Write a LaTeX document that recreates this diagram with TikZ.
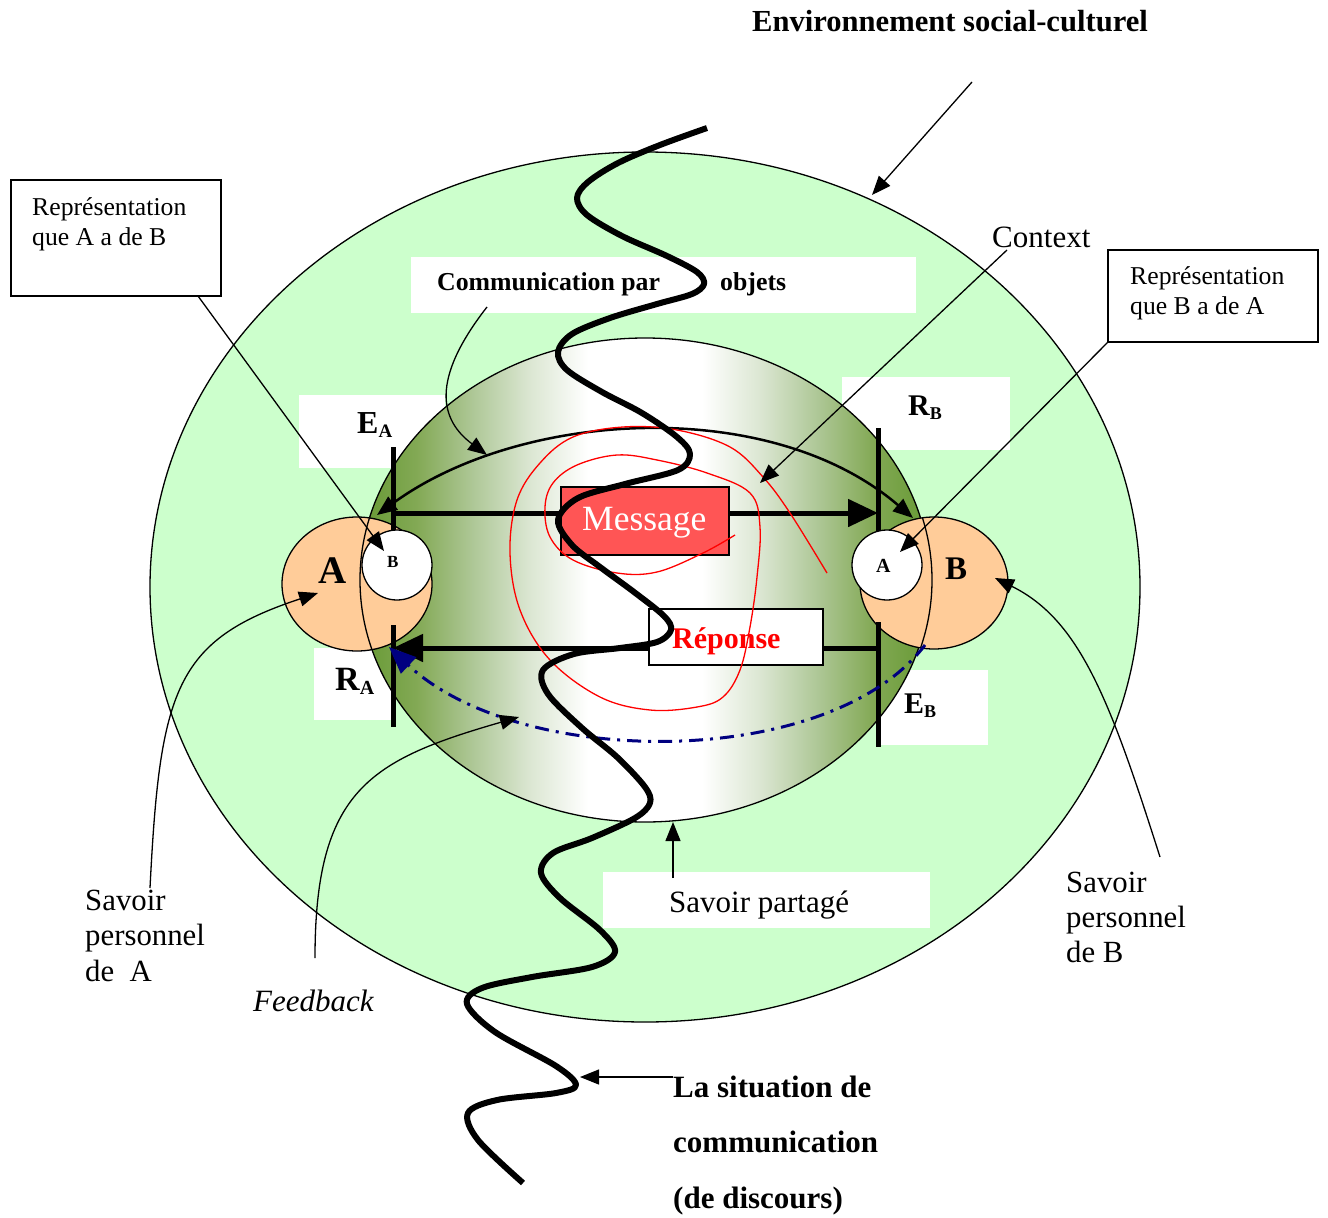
\documentclass[tikz,border=0pt]{standalone}
\usepackage{fontspec}
\setmainfont{Liberation Serif}
\usetikzlibrary{arrows.meta}
\definecolor{outergreen}{HTML}{CCFFCC}
\definecolor{dkg}{HTML}{669933}
\definecolor{orangec}{HTML}{FFCC99}
\definecolor{msgred}{HTML}{FF5555}
\definecolor{navyb}{HTML}{000080}
\definecolor{gA}{HTML}{83A955}
\definecolor{gB}{HTML}{AFC898}
\definecolor{gC}{HTML}{DCE7D3}
\pgfdeclarehorizontalshading{innershade}{100bp}{color(0bp)=(dkg); color(25bp)=(dkg); color(30bp)=(gA); color(35bp)=(gB); color(40bp)=(gC); color(45bp)=(white); color(55bp)=(white); color(60bp)=(gC); color(65bp)=(gB); color(70bp)=(gA); color(75bp)=(dkg); color(100bp)=(dkg)}
\newcommand{\fsz}[1]{\fontsize{#1}{#1}\selectfont}
\newcommand{\mysublab}[4]{{\fsz{#3}\bfseries #1\raisebox{-4pt}{\fsz{#4}#2}}}
\begin{document}
\begin{tikzpicture}[x=1pt,y=-1pt,
  thinarr/.style={line width=1.3pt,-{Triangle[length=19pt,width=15pt]}},
  outl/.style={line width=1.3pt},
  lab/.style={inner sep=0pt, anchor=base west},
  labbox/.style={fill=white, draw=none},
  bar/.style={line width=5pt}]
\useasboundingbox (0,0) rectangle (1328,1218);
\fill[white] (0,0) rectangle (1328,1218);
% outer ellipse
\draw[outl, fill=outergreen] (645,587) ellipse [x radius=495pt, y radius=435pt];
% white label backgrounds
\fill[labbox] (299,395) rectangle (445,468);
\fill[labbox] (314,648) rectangle (395,720);
\fill[labbox] (842,377) rectangle (1010,450);
\fill[labbox] (878,670) rectangle (988,745);
\fill[labbox] (411,257) rectangle (916,313);
\fill[labbox] (603,872) rectangle (930,928);
% inner shaded ellipse
\draw[outl, shading=innershade] (645,580) ellipse [x radius=285pt, y radius=242pt];
% persons
\draw[outl, fill=orangec] (357,584) ellipse [x radius=75pt, y radius=67pt];
\draw[outl, fill=orangec] (934,583) ellipse [x radius=74pt, y radius=66pt];
\begin{scope}
\clip (357,584) ellipse [x radius=75pt, y radius=67pt];
\draw[outl] (645,580) ellipse [x radius=285pt, y radius=242pt];
\end{scope}
\begin{scope}
\clip (934,583) ellipse [x radius=74pt, y radius=66pt];
\draw[outl] (645,580) ellipse [x radius=287pt, y radius=242pt];
\end{scope}
% bars (emitter / receiver)
\draw[bar] (393,447) -- (393,540);
\draw[bar] (393,625) -- (393,727);
\draw[bar] (878,428) -- (878,540);
\draw[bar] (878,622) -- (878,747);
\draw[outl, fill=white] (397,565) circle [radius=35pt];
\draw[outl, fill=white] (887,565) circle [radius=35pt];
\coordinate (eaL) at (393,513); \coordinate (rbR) at (878,513);
\coordinate (ebR) at (878,648); \coordinate (raL) at (393,648);
\draw[line width=5pt, -{Triangle[length=30pt,width=27pt]}] (eaL) -- (rbR);
\draw[line width=5pt, -{Triangle[length=30pt,width=27pt]}] (ebR) -- (raL);
% message & reponse boxes
\node[draw, line width=1.3pt, fill=msgred, minimum width=168pt, minimum height=68pt, inner sep=0pt] (msgbox) at (645,521) {};
\node[lab, text=white, font=\fsz{35.5}] (msg) at (582,530) {Message};
\node[draw, line width=1.3pt, fill=white, minimum width=174pt, minimum height=56pt, inner sep=0pt] (repbox) at (736,637) {};
\node[lab, text=red, font=\fsz{30}\bfseries] (rep) at (672,648) {Réponse};
% arc communication par objets
\coordinate (arcL) at (377,515); \coordinate (arcR) at (913,518);
\draw[line width=2.5pt, {Triangle[length=20pt,width=16pt]}-{Triangle[length=20pt,width=16pt]}] (arcL) .. controls (520,410) and (770,395) .. (arcR);
% feedback dash-dot
\coordinate (fbR) at (925,645); \coordinate (fbL) at (389,647);
\draw[navyb, line width=3pt, dash pattern=on 14pt off 7pt on 3pt off 7pt, -{Triangle[length=27pt,width=22pt]}] (fbR) .. controls (830,770) and (520,770) .. (fbL);
% red spiral
\draw[red, line width=1.3pt] plot[smooth, tension=0.6] coordinates {(827,573) (790,513) (763,477) (730,447) (677,430) (623,427) (573,437) (540,463) (517,500) (510,553) (520,610) (550,660) (600,697) (650,710) (697,707) (723,697) (740,670) (750,627) (757,577) (760,527) (750,493) (707,473) (657,460) (617,455) (577,465) (553,483) (545,507) (550,537) (573,560) (617,573) (657,572) (703,553) (735,535)};
% wave
\draw[line width=6pt, line cap=butt, line join=round] plot[smooth, tension=0.55] coordinates {(707,128) (660,145) (618,163) (588,182) (577,198) (587,215) (622,236) (667,256) (697,272) (704,284) (692,294) (657,304) (610,318) (572,334) (558,352) (567,370) (602,392) (642,413) (677,437) (690,454) (678,470) (625,484) (578,498) (558,520) (572,545) (600,567) (634,592) (664,616) (671,630) (657,642) (620,648) (574,654) (543,670) (548,694) (582,728) (617,757) (645,787) (650,803) (635,818) (592,838) (553,853) (541,873) (560,898) (600,930) (615,952) (592,967) (532,977) (482,988) (467,1004) (495,1032) (556,1066) (576,1085) (556,1093) (497,1100) (468,1113) (478,1140) (523,1183)};
% top label
\node[anchor=base, inner sep=0pt, font=\fsz{30.6}\bfseries] (env) at (950,31) {Environnement social-culturel};
\coordinate (envS) at (972,82); \coordinate (envE) at (872,195);
\draw[thinarr] (envS) -- (envE);
% context
\node[lab, font=\fsz{31}] (ctx) at (992,247) {Context};
\coordinate (ctxS) at (1007,250); \coordinate (ctxE) at (760,483);
\draw[thinarr] (ctxS) -- (ctxE);
% communication par objets
\node[lab, font=\fsz{25.8}\bfseries] (comm) at (437,290) {Communication par};
\node[lab, font=\fsz{25.8}\bfseries] (obj) at (720,290) {objets};
\coordinate (commS) at (487,307); \coordinate (commE) at (487,455);
\draw[thinarr] (commS) .. controls (430,380) and (440,420) .. (commE);
% representation boxes
\draw[outl] (11,180) rectangle (221,296);
\node[lab, font=\fsz{25.7}] (rpa1) at (32,215) {Représentation};
\node[lab, font=\fsz{25.7}] (rpa2) at (32,245) {que A a de B};
\coordinate (rpaS) at (198,296); \coordinate (rpaE) at (384,551);
\draw[thinarr] (rpaS) -- (rpaE);
\draw[outl] (1108,250) rectangle (1318,342);
\node[lab, font=\fsz{25.7}] (rpb1) at (1130,284) {Représentation};
\node[lab, font=\fsz{25.7}] (rpb2) at (1130,314) {que B a de A};
\coordinate (rpbS) at (1108,342); \coordinate (rpbE) at (900,552);
\draw[thinarr] (rpbS) -- (rpbE);
% E/R labels
\node[lab] (EA) at (357,433) {\mysublab{E}{A}{32}{19}};
\node[lab] (RA) at (335,690) {\mysublab{R}{A}{34}{20}};
\node[lab] (RB) at (908,415) {\mysublab{R}{B}{30}{18}};
\node[lab] (EB) at (904,713) {\mysublab{E}{B}{30}{18}};
% person letters
\node[lab, font=\fsz{39}\bfseries] (bigA) at (318,583) {A};
\node[lab, font=\fsz{33}\bfseries] (bigB) at (945,579) {B};
\node[lab, font=\fsz{17}\bfseries] (smB) at (387,567) {B};
\node[lab, font=\fsz{20}\bfseries] (smA) at (876,572) {A};
% savoir partage
\node[lab, font=\fsz{31}] (sp) at (669,912) {Savoir partagé};
\coordinate (spS) at (673,878); \coordinate (spE) at (673,822);
\draw[thinarr] (spS) -- (spE);
% savoir personnel A
\node[lab, font=\fsz{30.8}] (spa1) at (85,910) {Savoir};
\node[lab, font=\fsz{30.8}] (spa2) at (85,945) {personnel};
\node[lab, font=\fsz{30.8}] (spa3) at (85,981) {de\hspace{0.5em}A};
\coordinate (spaS) at (150,888); \coordinate (spaE) at (318,593);
\draw[thinarr] (spaS) .. controls (160,690) and (175,640) .. (spaE);
% feedback
\node[lab, font=\fsz{31}\itshape] (fb) at (253,1011) {Feedback};
\coordinate (fbS) at (315,958); \coordinate (fbE) at (519,717);
\draw[thinarr] (fbS) .. controls (315,790) and (370,760) .. (fbE);
% savoir personnel B
\node[lab, font=\fsz{30.8}] (spb1) at (1066,892) {Savoir};
\node[lab, font=\fsz{30.8}] (spb2) at (1066,927) {personnel};
\node[lab, font=\fsz{30.8}] (spb3) at (1066,962) {de B};
\coordinate (spbS) at (1160,857); \coordinate (spbE) at (995,578);
\draw[thinarr] (spbS) .. controls (1110,700) and (1080,620) .. (spbE);
% situation
\node[lab, font=\fsz{31}\bfseries] (sit1) at (673,1097) {La situation de};
\node[lab, font=\fsz{31}\bfseries] (sit2) at (673,1152) {communication};
\node[lab, font=\fsz{31}\bfseries] (sit3) at (673,1208) {(de discours)};
\coordinate (sitS) at (673,1077); \coordinate (sitE) at (580,1077);
\draw[thinarr] (sitS) -- (sitE);
\end{tikzpicture}
\end{document}
